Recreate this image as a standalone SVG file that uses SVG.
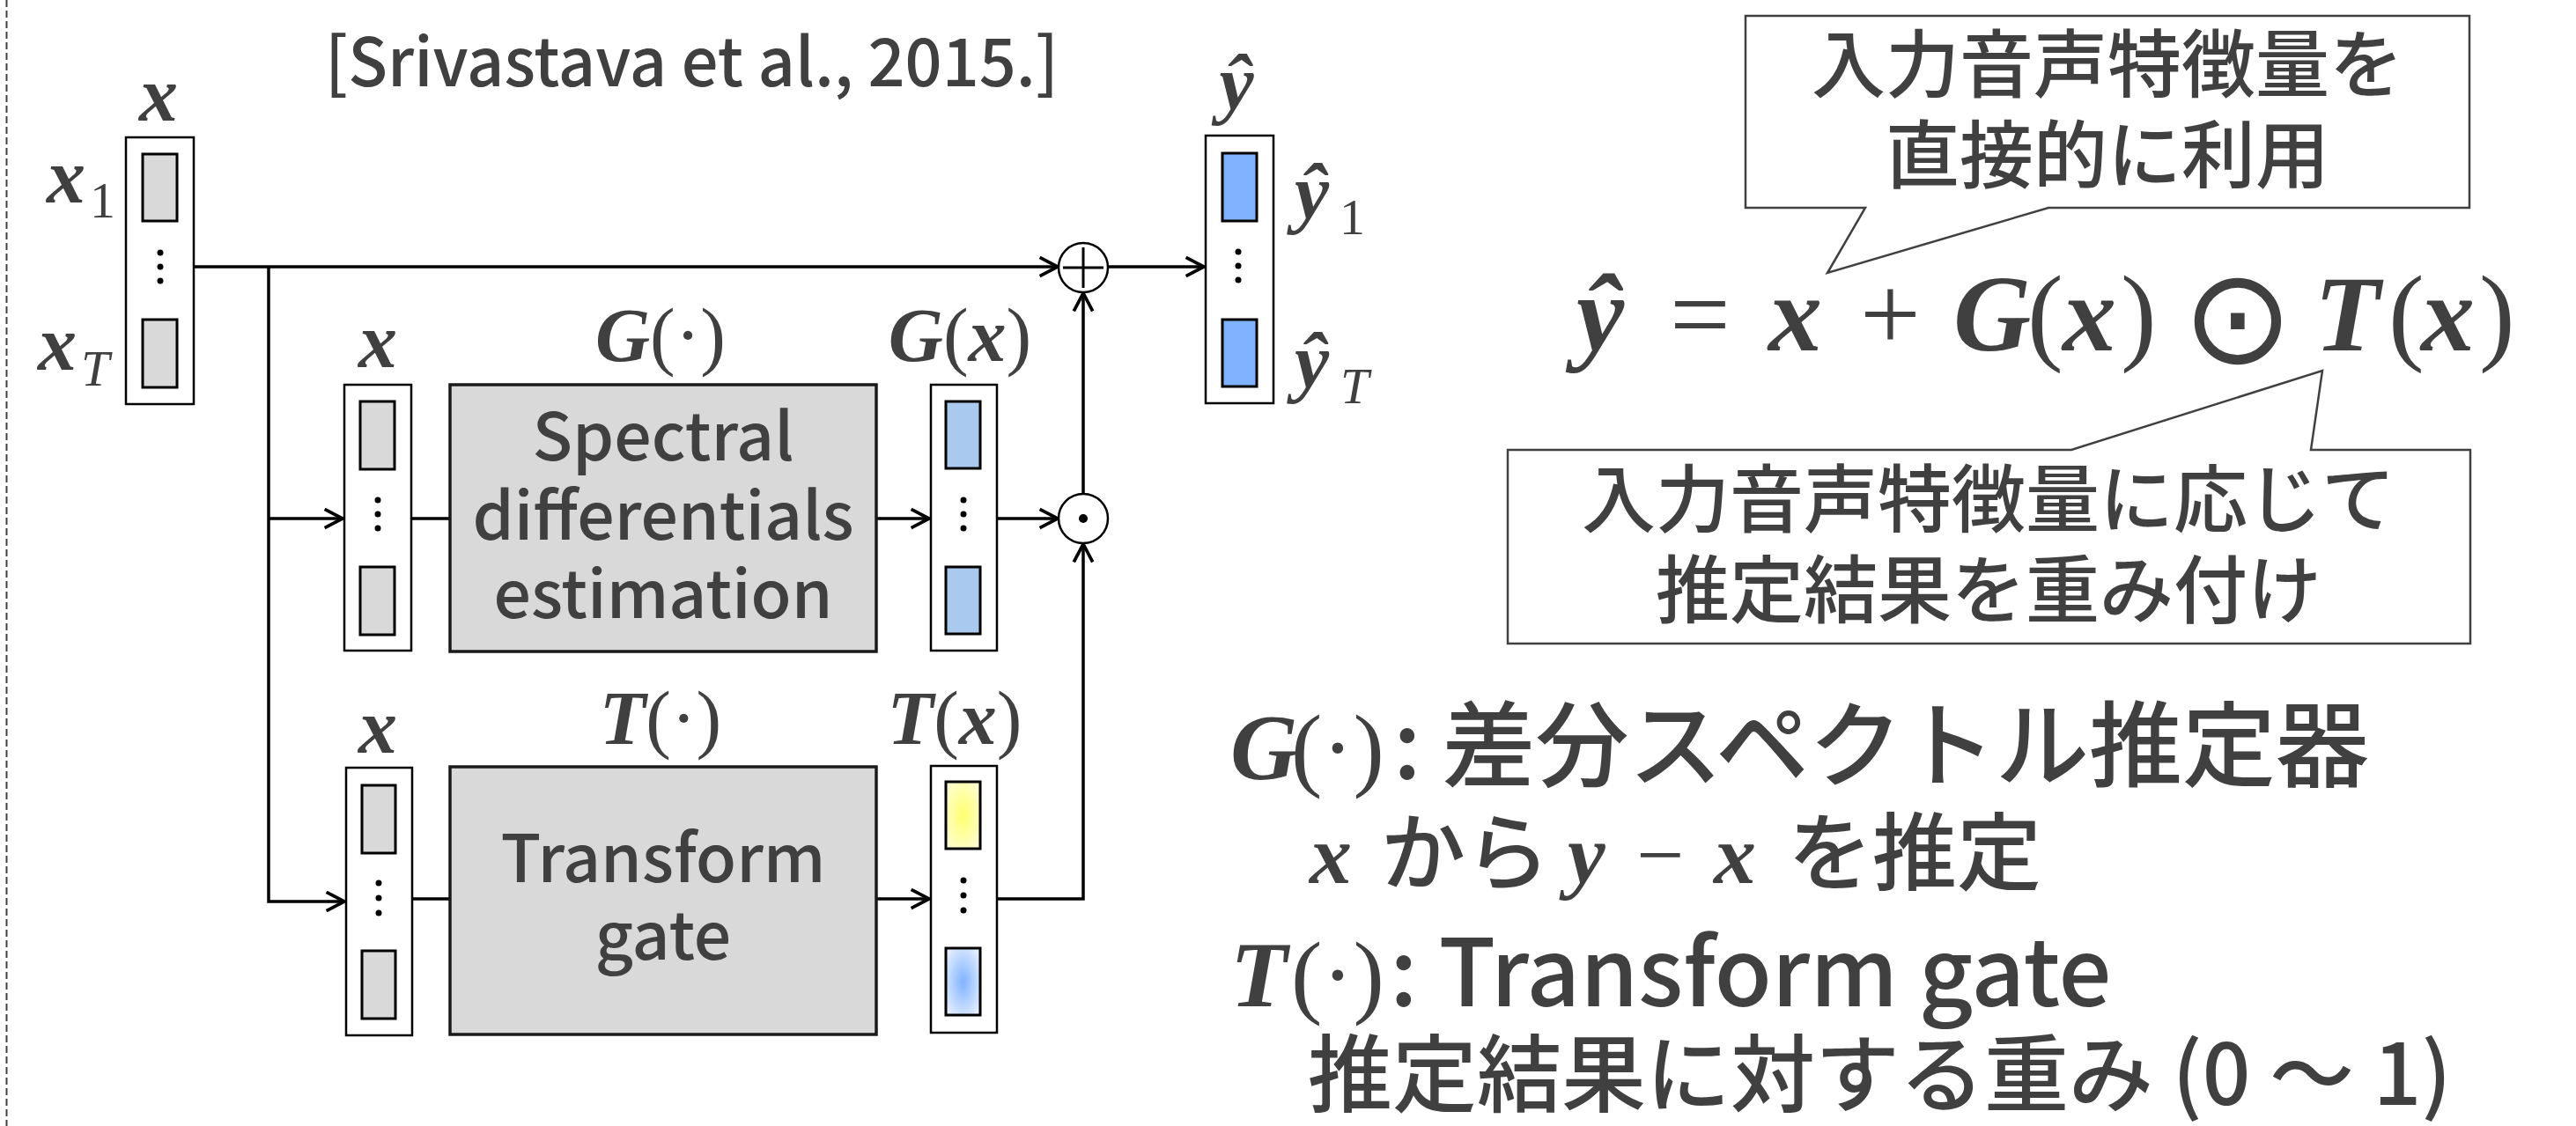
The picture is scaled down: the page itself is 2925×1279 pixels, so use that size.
<svg xmlns="http://www.w3.org/2000/svg" width="2925" height="1279" viewBox="0 0 2925 1279">
<style>
.t{font-family:"Noto Sans CJK JP","Noto Sans",sans-serif;font-weight:500;fill:#404040}
.m{font-family:"Liberation Serif",serif;font-style:italic;font-weight:bold;fill:#404040}
.r{font-style:normal;font-weight:normal}
.ri{font-style:italic;font-weight:normal}
.ob{fill:#fff;stroke:#000;stroke-width:2.5}
.ib{stroke:#000;stroke-width:3}
.gray{fill:#d9d9d9}
.lb{fill:#a9c9ee}
.bl{fill:#80b3ff}
.box{fill:#d9d9d9;stroke:#1a1a1a;stroke-width:3.5}
.dot{fill:#000}
.c{fill:none;stroke:#000;stroke-width:3.5}
.op{fill:#fff;stroke:#000;stroke-width:2.5}
.call{fill:#fff;stroke:#404040;stroke-width:2.5}
</style>
<defs>
<marker id="arr" markerUnits="userSpaceOnUse" markerWidth="30" markerHeight="30" viewBox="-24 -14 28 28" refX="0" refY="0" orient="auto" overflow="visible">
<path d="M-19,-10 L0,0 L-19,10" fill="none" stroke="#000" stroke-width="3.5"/>
</marker>
<radialGradient id="gy" cx="50%" cy="50%" r="60%">
<stop offset="0" stop-color="#ffff70"/><stop offset="1" stop-color="#ffffd0"/>
</radialGradient>
<radialGradient id="gb" cx="50%" cy="50%" r="60%">
<stop offset="0" stop-color="#80b3ff"/><stop offset="1" stop-color="#e2edff"/>
</radialGradient>
</defs>

<line x1="7.5" y1="0" x2="7.5" y2="1279" stroke="#404040" stroke-width="2" stroke-dasharray="8 4"/>

<g id="citation">
<text class="t" x="369" y="98" font-size="76" textLength="833" lengthAdjust="spacingAndGlyphs">[Srivastava et al., 2015.]</text>
</g>

<g id="connectors">
<path class="c" d="M220,303 H1201" marker-end="url(#arr)"/>
<path class="c" d="M1259,303 H1367" marker-end="url(#arr)"/>
<path class="c" d="M305,303 V1024 H391" marker-end="url(#arr)"/>
<path class="c" d="M305,589 H389" marker-end="url(#arr)"/>
<path class="c" d="M467,589 H511"/>
<path class="c" d="M995,589 H1055" marker-end="url(#arr)"/>
<path class="c" d="M1132,589 H1201" marker-end="url(#arr)"/>
<path class="c" d="M1230,561 V333" marker-end="url(#arr)"/>
<path class="c" d="M468,1021 H511"/>
<path class="c" d="M995,1021 H1055" marker-end="url(#arr)"/>
<path class="c" d="M1132,1021 H1230 V618" marker-end="url(#arr)"/>
</g>

<g id="input-x">
<rect class="ob" x="143" y="156" width="77" height="303"/>
<rect class="ib gray" x="162" y="175" width="39" height="76"/>
<rect class="ib gray" x="162" y="363" width="39" height="77"/>
<circle class="dot" cx="182" cy="287" r="3.5"/><circle class="dot" cx="182" cy="303" r="3.5"/><circle class="dot" cx="182" cy="319" r="3.5"/>
<text class="m" x="180" y="137" font-size="88" text-anchor="middle">x</text>
<text class="m" x="53" y="230" font-size="88">x<tspan class="r" x="102" y="247" font-size="58">1</tspan></text>
<text class="m" x="43" y="420" font-size="88">x<tspan class="ri" x="92" y="438" font-size="58">T</tspan></text>
</g>

<g id="plus">
<circle class="op" cx="1230" cy="304" r="28"/>
<path d="M1207,304 H1253 M1230,281 V327" stroke="#000" stroke-width="3"/>
</g>

<g id="output-y">
<rect class="ob" x="1369" y="154" width="77" height="304"/>
<rect class="ib bl" x="1388" y="174" width="39" height="77"/>
<rect class="ib bl" x="1388" y="363" width="39" height="76"/>
<circle class="dot" cx="1406" cy="286" r="3.5"/><circle class="dot" cx="1406" cy="302" r="3.5"/><circle class="dot" cx="1406" cy="318" r="3.5"/>
<text class="m" x="1404" y="124" font-size="88" text-anchor="middle">ŷ</text>
<text class="m" x="1470" y="248" font-size="88">ŷ<tspan class="r" x="1521" y="266" font-size="58">1</tspan></text>
<text class="m" x="1470" y="440" font-size="88">ŷ<tspan class="ri" x="1522" y="458" font-size="58">T</tspan></text>
</g>

<g id="g-input">
<rect class="ob" x="391" y="437" width="76" height="302"/>
<rect class="ib gray" x="409" y="456" width="39" height="77"/>
<rect class="ib gray" x="409" y="644" width="39" height="77"/>
<circle class="dot" cx="429" cy="568" r="3.5"/><circle class="dot" cx="429" cy="584" r="3.5"/><circle class="dot" cx="429" cy="600" r="3.5"/>
<text class="m" x="429" y="417" font-size="88" text-anchor="middle">x</text>
</g>

<g id="spectral">
<rect class="box" x="511" y="437" width="484" height="303"/>
<text class="m" x="750" y="410" font-size="86" text-anchor="middle">G<tspan class="r">(·)</tspan></text>
<text class="t" font-size="75" text-anchor="middle"><tspan x="753" y="523">Spectral</tspan><tspan x="753" y="613">differentials</tspan><tspan x="753" y="702">estimation</tspan></text>
</g>

<g id="g-output">
<rect class="ob" x="1057" y="437" width="75" height="302"/>
<rect class="ib lb" x="1074" y="456" width="39" height="76"/>
<rect class="ib lb" x="1074" y="644" width="39" height="76"/>
<circle class="dot" cx="1094" cy="568" r="3.5"/><circle class="dot" cx="1094" cy="584" r="3.5"/><circle class="dot" cx="1094" cy="600" r="3.5"/>
<text class="m" x="1090" y="410" font-size="86" text-anchor="middle">G<tspan class="r">(</tspan>x<tspan class="r">)</tspan></text>
</g>

<g id="odot">
<circle class="op" cx="1230" cy="589" r="28"/>
<circle class="dot" cx="1230" cy="589" r="5"/>
</g>

<g id="t-input">
<rect class="ob" x="393" y="872" width="75" height="304"/>
<rect class="ib gray" x="411" y="892" width="38" height="77"/>
<rect class="ib gray" x="411" y="1080" width="38" height="77"/>
<circle class="dot" cx="430" cy="1003" r="3.5"/><circle class="dot" cx="430" cy="1020" r="3.5"/><circle class="dot" cx="430" cy="1037" r="3.5"/>
<text class="m" x="429" y="855" font-size="88" text-anchor="middle">x</text>
</g>

<g id="transform">
<rect class="box" x="511" y="871" width="484" height="304"/>
<text class="m" x="750" y="845" font-size="86" text-anchor="middle">T<tspan class="r">(·)</tspan></text>
<text class="t" font-size="75" text-anchor="middle"><tspan x="753" y="1002">Transform</tspan><tspan x="753" y="1090">gate</tspan></text>
</g>

<g id="t-output">
<rect class="ob" x="1057" y="870" width="75" height="303"/>
<rect class="ib" fill="url(#gy)" x="1074" y="888" width="39" height="76"/>
<rect class="ib" fill="url(#gb)" x="1074" y="1077" width="39" height="76"/>
<circle class="dot" cx="1094" cy="1000" r="3.5"/><circle class="dot" cx="1094" cy="1017" r="3.5"/><circle class="dot" cx="1094" cy="1034" r="3.5"/>
<text class="m" x="1084" y="845" font-size="86" text-anchor="middle">T<tspan class="r">(</tspan>x<tspan class="r">)</tspan></text>
</g>

<g id="callout-top">
<path class="call" d="M1982,18 H2804 V236 H2326 L2075,310 L2118,236 H1982 Z"/>
<text class="t" font-size="84" text-anchor="middle"><tspan x="2393" y="104">入力音声特徴量を</tspan><tspan x="2393" y="207">直接的に利用</tspan></text>
</g>

<g id="equation">
<text class="m" y="398" font-size="122"><tspan x="1790">ŷ</tspan><tspan class="r" x="1896">=</tspan><tspan x="2008">x</tspan><tspan class="r" x="2112">+</tspan><tspan x="2218">G</tspan><tspan class="r" x="2302">(</tspan><tspan x="2342">x</tspan><tspan class="r" x="2408">)</tspan><tspan x="2628">T</tspan><tspan class="r" x="2712">(</tspan><tspan x="2749">x</tspan><tspan class="r" x="2815">)</tspan></text>
<text x="2478" y="412" font-size="150" style="font-family:'DejaVu Sans',sans-serif;fill:#404040">⊙</text>
</g>

<g id="callout-bottom">
<path class="call" d="M1712,511 H2352 L2637,421 L2624,511 H2805 V731 H1712 Z"/>
<text class="t" font-size="84" text-anchor="middle"><tspan x="2258" y="598">入力音声特徴量に応じて</tspan><tspan x="2258" y="701">推定結果を重み付け</tspan></text>
</g>

<g id="legend">
<text y="885" font-size="106"><tspan class="m" x="1397">G</tspan><tspan class="m r" x="1466">(·)</tspan><tspan class="t" x="1582">: 差分スペクトル推定器</tspan><tspan class="m" x="1487" y="1003" font-size="96">x</tspan><tspan class="t" x="1568" font-size="96">から</tspan><tspan class="m" x="1780" font-size="96">y</tspan><tspan class="m r" x="1858" font-size="96">−</tspan><tspan class="m" x="1946" font-size="96">x</tspan><tspan class="t" x="2030" font-size="96">を推定</tspan></text>
<text y="1143" font-size="106"><tspan class="m" x="1397">T</tspan><tspan class="m r" x="1466">(·)</tspan><tspan class="t" x="1578">: Transform gate</tspan><tspan class="t" x="1485" y="1255" font-size="96">推定結果に対する重み (0 〜 1)</tspan></text>
</g>
</svg>
